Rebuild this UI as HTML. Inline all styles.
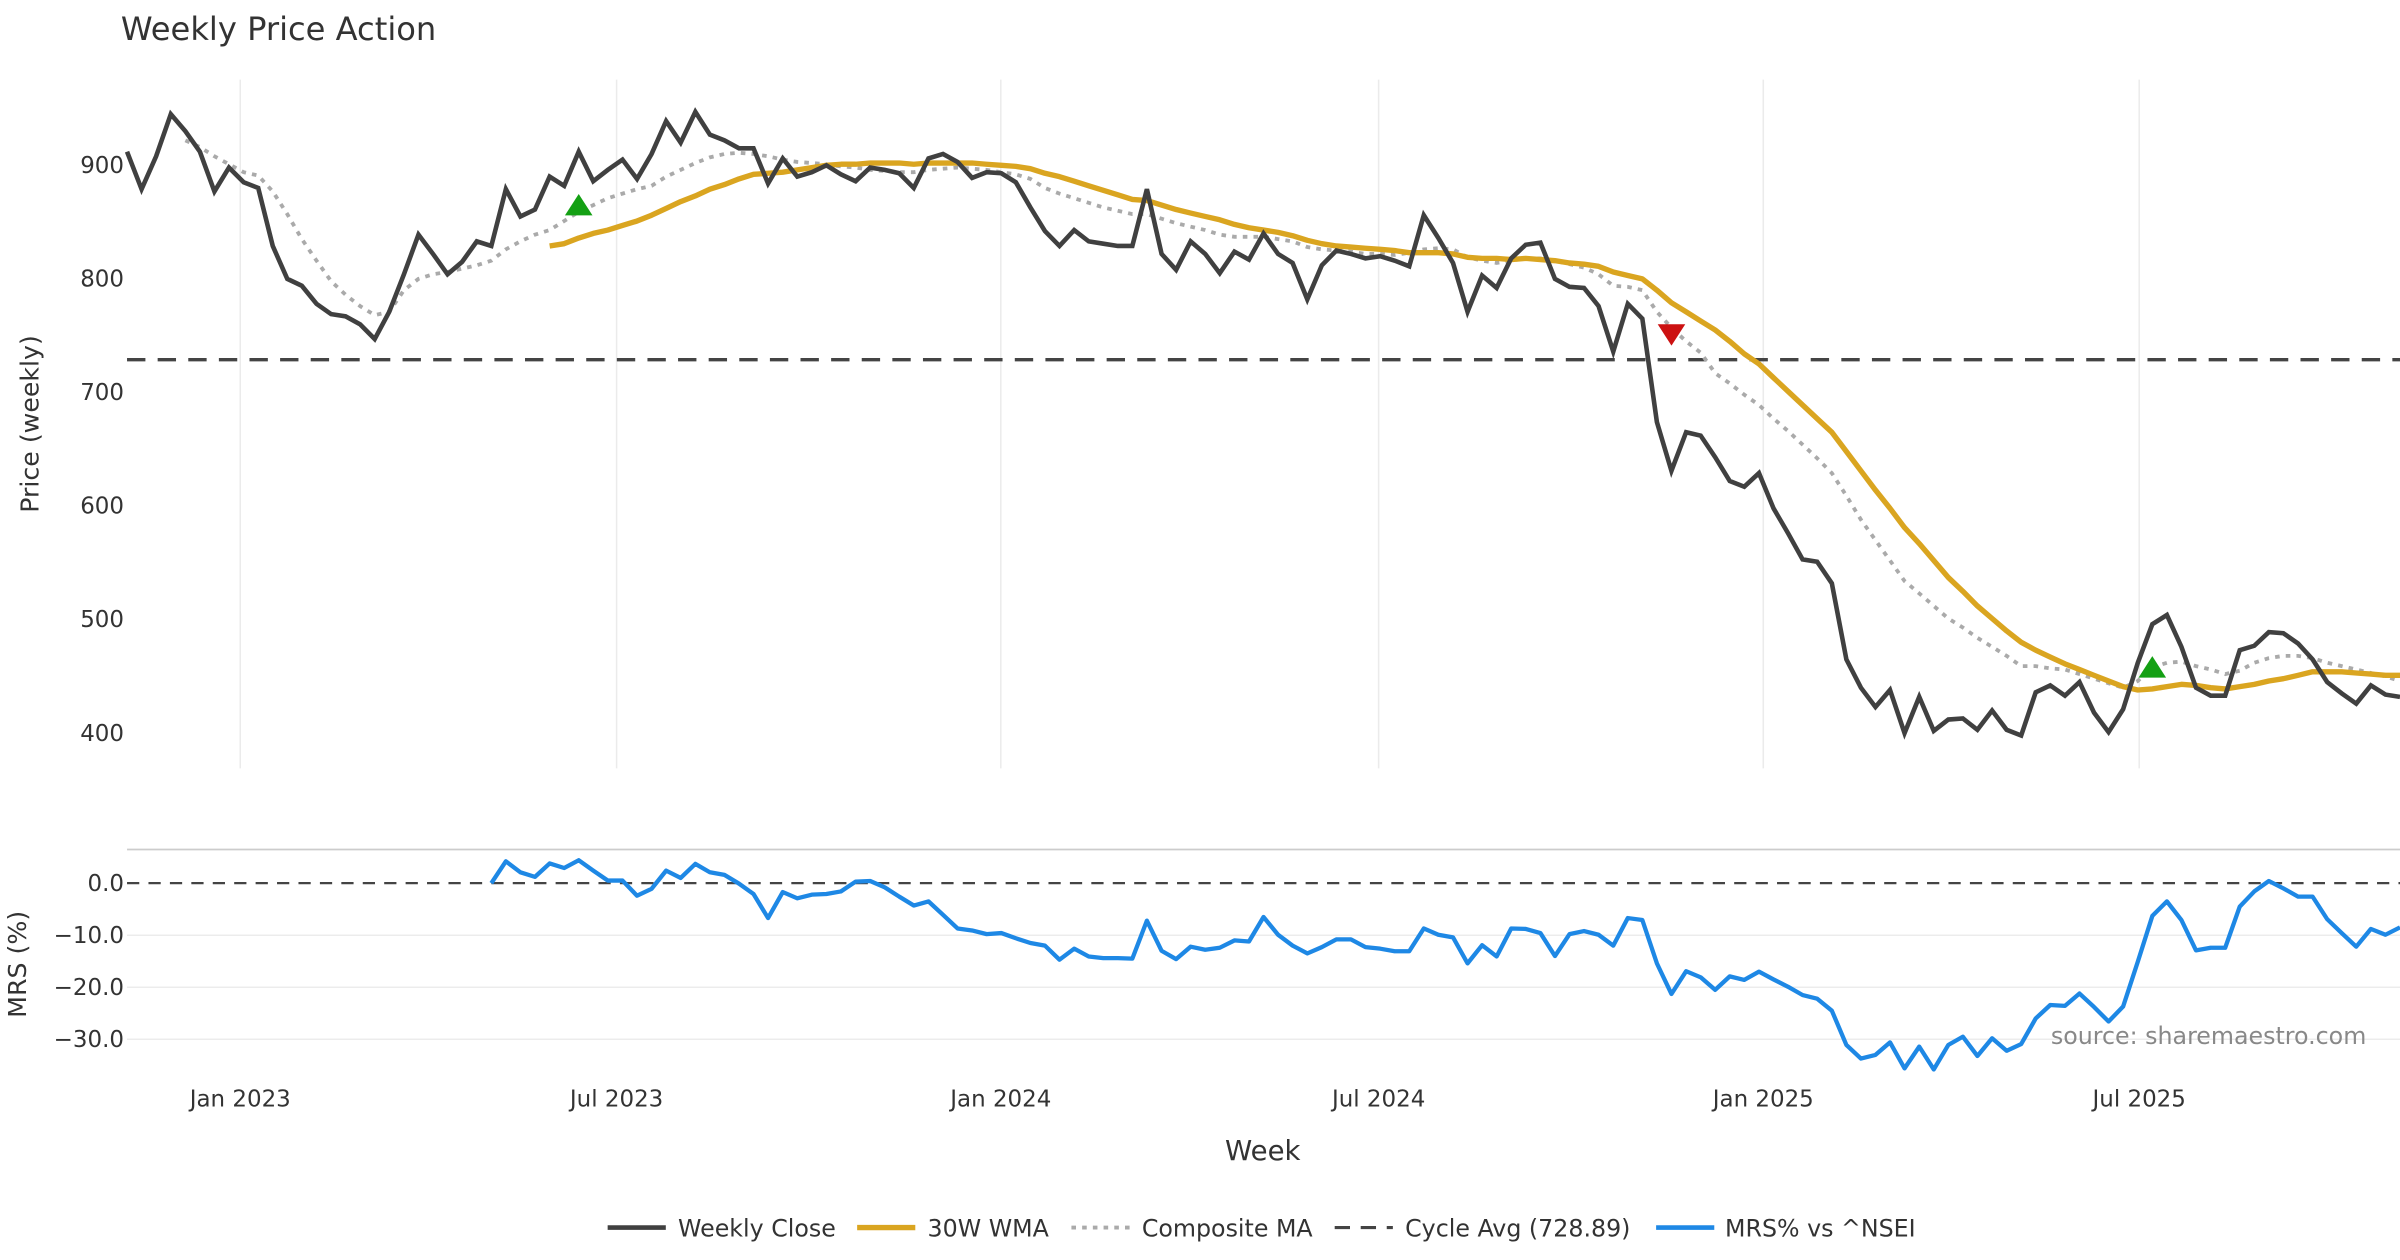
<!DOCTYPE html>
<html><head><meta charset="utf-8"><style>
html,body{margin:0;padding:0;background:#fff;}
svg{display:block;font-family:"DejaVu Sans","Liberation Sans",sans-serif;}
</style></head><body>
<svg id="chart" width="2400" height="1260" viewBox="0 0 1568 823.2" xmlns="http://www.w3.org/2000/svg">
<text x="79" y="26" font-size="21" fill="#333">Weekly Price Action</text>
<g id="topPanel"></g><g id="bottomPanel"></g>
<text transform="translate(25,277) rotate(-90)" text-anchor="middle" font-size="16.5" fill="#333">Price (weekly)</text>
<text transform="translate(17,630) rotate(-90)" text-anchor="middle" font-size="16.5" fill="#333">MRS (%)</text>
<text x="825" y="758" text-anchor="middle" font-size="18" fill="#333">Week</text>
<text x="1546" y="682" text-anchor="end" font-size="15.5" fill="#888">source: sharemaestro.com</text>
<g id="legend" font-size="15.5" fill="#333">
 <g><line x1="397" y1="802" x2="435" y2="802" stroke="#404040" stroke-width="3"/><text x="443" y="808">Weekly Close</text></g>
 <g><line x1="560" y1="802" x2="598" y2="802" stroke="#DAA520" stroke-width="3.5"/><text x="606" y="808">30W WMA</text></g>
 <g><line x1="700" y1="802" x2="738" y2="802" stroke="#aaa" stroke-width="2.5" stroke-dasharray="3,4"/><text x="746" y="808">Composite MA</text></g>
 <g><line x1="872" y1="802" x2="910" y2="802" stroke="#444" stroke-width="2" stroke-dasharray="10,7"/><text x="918" y="808">Cycle Avg (728.89)</text></g>
 <g><line x1="1082" y1="802" x2="1120" y2="802" stroke="#1E88E5" stroke-width="3"/><text x="1127" y="808">MRS% vs ^NSEI</text></g>
</g>
</svg>
<script>
const close=[912,879,908,945,930,912,877,898,885,880,829,800,794,778,769,767,760,747,771,804,839,822,804,815,833,829,879,855,861,890,882,912,886,896,905,888,910,939,920,947,927,922,915,915,884,906,890,894,900,892,886,898,896,893,
880,906,910,903,889,894,893,885,863,842,829,843,833,831,829,829,879,822,808,833,822,805,824,817,840,822,814,782,812,825,822,818,820,816,811,856,836,814,771,803,792,818,830,832,800,793,792,776,736,778,765,674,631,665,662,
643,622,617,629,598,576,553,551,532,465,440,423,438,400,432,402,412,413,403,420,403,398,436,442,433,445,418,401,421,462,496,504,476,440,433,433,473,477,489,488,479,465,445,435,426,442,434,432];
const wmaStart=29;
const wma=[829,831,836,840,843,847,851,856,862,868,873,879,883,888,892,893,894,896,898,900,901,901,902,902,902,
901,902,902,902,902,901,900,899,897,893,890,886,882,878,874,870,869,865,861,858,855,852,848,845,843,841,838,834,831,829,828,827,826,825,823,823,823,822,819,818,818,817,818,817,816,814,813,811,806,803,800,790,779,771,763,
755,745,734,725,713,701,689,677,665,648,631,614,598,581,567,552,537,525,512,501,490,480,473,467,461,456,451,446,441,438,439,441,443,442,440,439,441,443,446,448,451,454,454,454,453,452,451,451];
const compStart=4;
const comp=[922,916,908,901,894,891,877,857,835,816,798,786,776,768,771,790,800,804,806,809,812,816,826,833,839,843,851,859,865,871,875,879,882,890,896,902,907,910,911,910,908,905,903,902,901,899,898,896,895,894,
894,896,897,898,897,896,894,892,888,880,875,871,867,863,860,857,857,853,849,846,843,839,837,837,837,835,833,828,826,825,824,822,822,821,823,826,827,826,819,816,814,816,818,818,816,813,810,804,794,793,790,771,757,745,735,
717,708,698,689,677,666,654,642,629,609,588,570,552,534,523,512,501,493,484,476,468,459,459,457,456,452,448,444,440,446,458,462,463,459,456,452,455,462,466,468,468,466,462,459,456,453,450,446];
const cycleAvg=728.89;
const mrsStart=25;
const mrs=[0,4.2,2.1,1.2,3.8,2.9,4.4,2.4,0.5,0.5,-2.4,-1.1,2.4,1.0,3.7,2.1,1.6,-0.1,-2.1,-6.7,-1.7,-2.9,-2.2,-2.1,-1.6,0.3,0.4,-0.8,-2.6,-4.3,-3.5,-6.1,-8.7,-9.1,-9.8,-9.6,-10.6,-11.5,-12.0,-14.7,-12.6,-14.1,-14.4,-14.4,-14.5,-7.2,-13.0,-14.6,-12.2,-12.8,-12.4,-11.0,-11.2,-6.5,-9.9,-12.0,-13.5,-12.3,-10.8,-10.8,-12.3,-12.6,-13.1,-13.1,-8.7,-9.9,
-10.4,-15.4,-11.9,-14.1,-8.7,-8.8,-9.6,-14.0,-9.8,-9.2,-9.9,-12.0,-6.7,-7.1,-15.4,-21.3,-16.9,-18.1,-20.5,-17.9,-18.6,-17.0,-18.5,-19.9,-21.5,-22.2,-24.5,-31.1,-33.7,-33.0,-30.6,-35.6,-31.4,-35.8,-31.1,-29.5,-33.2,-29.8,-32.2,-30.9,-26.0,-23.4,-23.6,-21.2,-23.8,-26.6,-23.7,-15.1,-6.3,-3.5,-7.1,-12.9,-12.4,-12.4,-4.5,-1.6,0.4,-1.0,-2.6,-2.6,-6.9,-9.6,-12.2,-8.8,-9.9,-8.5];
const buyIdx=[31,139];
const buyVal=[864,457];
const sellIdx=[106];
const sellVal=[752];
const xTickIdx=[7.77,33.6,59.97,85.9,112.3,138.1];
const xTickLabels=["Jan 2023","Jul 2023","Jan 2024","Jul 2024","Jan 2025","Jul 2025"];
const yTicks=[400,500,600,700,800,900];
const mrsTicks=[0,-10,-20,-30];

const NS="http://www.w3.org/2000/svg";
const N=close.length;
const xs=i=>83+i*(1568-83)/(N-1);
const ys=v=>108+(900-v)*(479-108)/500;
const ym=v=>577-v*3.4;
function el(tag,attrs,parent){const e=document.createElementNS(NS,tag);for(const k in attrs)e.setAttribute(k,attrs[k]);parent.appendChild(e);return e;}
const topG=document.getElementById('topPanel'),botG=document.getElementById('bottomPanel');

xTickIdx.forEach((t,k)=>{
  const g=el('line',{x1:xs(t),x2:xs(t),y1:52,y2:502,stroke:'#ebebeb','stroke-width':1},topG);
  
  
  const tx=el('text',{x:xs(t),y:723,'text-anchor':'middle','font-size':15,fill:'#333'},botG);
  tx.textContent=xTickLabels[k];
  
  
});
yTicks.forEach(v=>{
  const t=el('text',{x:81,y:ys(v)+5,'text-anchor':'end','font-size':15,fill:'#333'},topG);
  t.textContent=v;
  
  
});
const border=el('line',{x1:83,x2:1568,y1:555,y2:555,stroke:'#ccc','stroke-width':1.2},botG);


mrsTicks.forEach(v=>{
  if(v!==0){const gl=el('line',{x1:83,x2:1568,y1:ym(v),y2:ym(v),stroke:'#ececec','stroke-width':1},botG);
  
  }
  const t=el('text',{x:81,y:ym(v)+5,'text-anchor':'end','font-size':15,fill:'#333'},botG);
  t.textContent=v===0?'0.0':'\u2212'+Math.abs(v).toFixed(1);
  
  
});
const zl=el('line',{x1:83,x2:1568,y1:ym(0),y2:ym(0),stroke:'#444','stroke-width':1.5,'stroke-dasharray':'8,6'},botG);



const cl=el('line',{x1:83,x2:1568,y1:ys(cycleAvg),y2:ys(cycleAvg),stroke:'#444','stroke-width':2.2,'stroke-dasharray':'12,8'},topG);



function pathD(arr,start,fx,fy){return arr.map((v,k)=>(k?'L':'M')+fx(start+k).toFixed(1)+','+fy(v).toFixed(1)).join('');}
const pc=el('path',{d:pathD(comp,compStart,xs,ys),fill:'none',stroke:'#aaa','stroke-width':2.5,'stroke-dasharray':'3,4'},topG);


const pw=el('path',{d:pathD(wma,wmaStart,xs,ys),fill:'none',stroke:'#DAA520','stroke-width':3.5,'stroke-linejoin':'round'},topG);


const pcl=el('path',{d:pathD(close,0,xs,ys),fill:'none',stroke:'#404040','stroke-width':3},topG);


buyIdx.forEach((b,k)=>{
  const cx=xs(b),cy=ys(buyVal[k]);
  const p=el('polygon',{points:`${cx-9},${cy+6} ${cx+9},${cy+6} ${cx},${cy-8}`,fill:'#14a014'},topG);
  
  
});
sellIdx.forEach((b,k)=>{
  const cx=xs(b),cy=ys(sellVal[k]);
  const p=el('polygon',{points:`${cx-9},${cy-6} ${cx+9},${cy-6} ${cx},${cy+8}`,fill:'#cc1111'},topG);
  
  
});
const pm=el('path',{d:pathD(mrs,mrsStart,xs,ym),fill:'none',stroke:'#1E88E5','stroke-width':2.8,'stroke-linejoin':'round'},botG);


</script>
</body></html>
